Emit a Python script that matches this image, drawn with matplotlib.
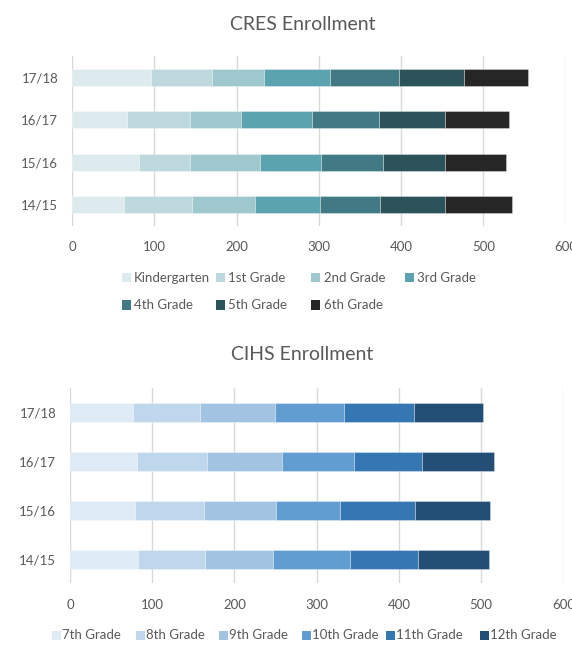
import matplotlib as mpl
import matplotlib.pyplot as plt
from matplotlib.patches import Rectangle

mpl.rcParams['font.family'] = ['Lato', 'DejaVu Sans']
mpl.rcParams['text.color'] = '#595959'

W, H = 572., 646.

years = ['14/15', '15/16', '16/17', '17/18']

# CRES enrollment, one list per grade (14/15 .. 17/18)
cres_grades = ['Kindergarten', '1st Grade', '2nd Grade', '3rd Grade',
               '4th Grade', '5th Grade', '6th Grade']
cres_k = [63, 81, 67, 96]
cres_1 = [83, 62, 77, 74]
cres_2 = [77, 85, 61, 63]
cres_3 = [79, 75, 87, 81]
cres_4 = [73, 75, 81, 83]
cres_5 = [79, 75, 81, 79]
cres_6 = [81, 75, 77, 79]
cres_colors = ['#DDEBEF', '#BDD9DD', '#9EC8CE', '#5BA3AE',
               '#417A84', '#2C535A', '#262626']

# CIHS enrollment
cihs_grades = ['7th Grade', '8th Grade', '9th Grade', '10th Grade',
               '11th Grade', '12th Grade']
cihs_7 = [83, 79, 81, 77]
cihs_8 = [81, 84, 86, 81]
cihs_9 = [83, 87, 91, 91]
cihs_10 = [93, 79, 87, 84]
cihs_11 = [83, 91, 83, 86]
cihs_12 = [87, 91, 88, 83]
cihs_colors = ['#DEEAF5', '#BFD7ED', '#A2C4E2', '#619DD1',
               '#3577B3', '#234F77']


def px_axes(fig, left, top, right, bottom):
    return fig.add_axes([left / W, 1 - bottom / H, (right - left) / W, (bottom - top) / H])


def stacked(ax, series, colors):
    left = [0] * len(years)
    for vals, c in zip(series, colors):
        ax.barh(range(len(years)), vals, left=left, height=0.39, color=c,
                edgecolor=(1, 1, 1, 0.45), linewidth=0.5, zorder=3)
        left = [a + b for a, b in zip(left, vals)]
    ax.set_xlim(0, 600)
    ax.set_ylim(-0.5, len(years) - 0.5)
    ax.set_xticks(range(0, 601, 100))
    ax.set_yticks(range(len(years)))
    ax.set_yticklabels(years)
    ax.tick_params(length=0, labelsize=9.5, labelcolor='#595959', pad=11)
    ax.tick_params(axis='y', pad=10)
    for s in ax.spines.values():
        s.set_visible(False)
    ax.grid(axis='x', color='#D9D9D9', linewidth=1.0, zorder=0)
    ax.set_axisbelow(True)


def legend(fig, labels, colors, xs, ys, dx):
    for lab, c, x, y in zip(labels, colors, xs, ys):
        fig.add_artist(Rectangle((x / W, 1 - (y + 4.5) / H), 9 / W, 9 / H,
                                 facecolor=c, edgecolor='none',
                                 transform=fig.transFigure))
        fig.text((x + dx) / W, 1 - y / H, lab, fontsize=9.5, color='#595959',
                 va='center', ha='left')


fig = plt.figure(figsize=(W / 100, H / 100), dpi=100)

ax1 = px_axes(fig, 72, 56, 565.5, 226)
stacked(ax1, [cres_k, cres_1, cres_2, cres_3, cres_4, cres_5, cres_6], cres_colors)
fig.text(303 / W, 1 - 24 / H, 'CRES Enrollment', fontsize=14, ha='center', va='center')
legend(fig, cres_grades, cres_colors,
       [121.7, 216, 311, 404.5, 121.7, 216, 311],
       [278, 278, 278, 278, 305, 305, 305], 12.5)

ax2 = px_axes(fig, 70, 388.4, 563.3, 583.4)
stacked(ax2, [cihs_7, cihs_8, cihs_9, cihs_10, cihs_11, cihs_12], cihs_colors)
fig.text(302 / W, 1 - 355 / H, 'CIHS Enrollment', fontsize=14, ha='center', va='center')
legend(fig, cihs_grades, cihs_colors,
       [52.4, 135.7, 219, 302, 385.8, 480], [635] * 6, 10)

fig.savefig('out.png', dpi=100)
